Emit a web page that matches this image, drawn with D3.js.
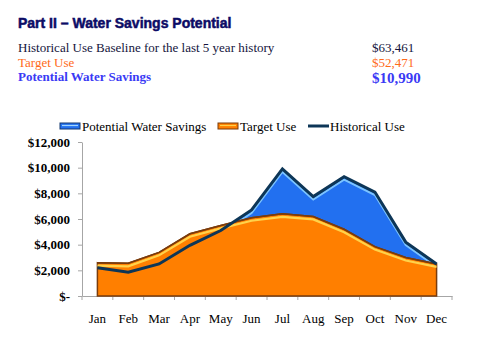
<!DOCTYPE html>
<html>
<meta charset="utf-8">
<script src="https://d3js.org/d3.v7.min.js"></script>
<style>
  body { margin: 0; background: #fff; }
  text { font-family: "Liberation Serif", "DejaVu Serif", serif; }
</style>
<div id="chart_div"></div>
<script>

var months = ["Jan", "Feb", "Mar", "Apr", "May", "Jun", "Jul", "Aug", "Sep", "Oct", "Nov", "Dec"];
var historical = [2200, 1850, 2500, 3950, 5100, 6700, 9900, 7750, 9300, 8100, 4200, 2500];
var target = [2600, 2550, 3400, 4850, 5500, 6100, 6400, 6200, 5200, 3850, 3000, 2500];
var yTicks = [0, 2000, 4000, 6000, 8000, 10000, 12000];

var summaryLabels = ["Historical Use Baseline for the last 5 year history", "Target Use", "Potential Water Savings"];
var summaryValues = ["$63,461", "$52,471", "$10,990"];
var legendLabels = ["Potential Water Savings", "Target Use", "Historical Use"];

var W = 501, H = 341;
var svg = d3.select("#chart_div").append("svg")
  .attr("width", W).attr("height", H);

// heading and totals
svg.append("text")
  .attr("x", 18).attr("y", 28)
  .style("font-family", "'Liberation Sans', Arial, sans-serif")
  .style("font-weight", "bold")
  .style("font-size", "14px")
  .style("fill", "#0c0c66")
  .style("stroke", "#0c0c66")
  .style("stroke-width", 0.5)
  .text("Part II \u2013 Water Savings Potential");

var rowY = [52, 67, 81];
var rowColor = ["#14143c", "#ff6a1a", "#3a3af5"];
summaryLabels.forEach(function(t, i) {
  svg.append("text").attr("x", 18).attr("y", rowY[i])
    .style("font-size", "13px")
    .style("font-weight", i == 2 ? "bold" : "normal")
    .style("fill", rowColor[i]).text(t);
  svg.append("text").attr("x", 372).attr("y", rowY[i] + (i == 2 ? 1.5 : 0))
    .style("font-size", i == 2 ? "15px" : "13px")
    .style("font-weight", i == 2 ? "bold" : "normal")
    .style("fill", rowColor[i]).text(summaryValues[i]);
});

// plot box
var plotLeft = 82, plotRight = 452, plotTop = 142, plotBottom = 296;

var x = d3.scaleBand().domain(months).range([plotLeft, plotRight]);
var y = d3.scaleLinear().domain([0, 12000]).range([plotBottom, plotTop]);
var cx = function(m) { return x(m) + x.bandwidth() / 2; };

var xAxis = svg.append("g")
  .attr("transform", "translate(0," + plotBottom + ")")
  .call(d3.axisBottom(x).tickSize(4).tickSizeOuter(0));
xAxis.selectAll(".tick line").attr("transform", "translate(" + (-x.bandwidth() / 2) + ",0)");
xAxis.append("line").attr("x1", plotRight).attr("x2", plotRight).attr("y2", 4);

var yAxis = svg.append("g")
  .attr("transform", "translate(" + plotLeft + ",0)")
  .call(d3.axisLeft(y).tickValues(yTicks).tickSize(4).tickSizeOuter(0)
    .tickFormat(function(d) { return d == 0 ? "$-" : d3.format("$,")(d); }));

[xAxis, yAxis].forEach(function(g) {
  g.selectAll("path, line").attr("stroke", "#a6a6a6");
  g.selectAll("text")
    .style("font-family", "'Liberation Serif', serif")
    .style("font-size", "13px")
    .style("fill", "#000");
});
xAxis.selectAll(".tick text").attr("dy", "1.55em");
yAxis.selectAll(".tick text").attr("x", -12).style("font-weight", "bold");

var histData = months.map(function(m, i) { return { m: m, v: historical[i] }; });
var targData = months.map(function(m, i) { return { m: m, v: target[i] }; });

var area = d3.area()
  .x(function(d) { return cx(d.m); })
  .y0(y(0))
  .y1(function(d) { return y(d.v); });
var line = d3.line()
  .x(function(d) { return cx(d.m); })
  .y(function(d) { return y(d.v); });
var shifted = d3.line()
  .x(function(d) { return cx(d.m); })
  .y(function(d) { return y(d.v) + 3; });

// savings area: filled up to historical use
svg.append("path").datum(histData)
  .attr("d", area)
  .attr("fill", "#2270f0");
svg.append("path").datum(histData)
  .attr("d", shifted)
  .attr("fill", "none")
  .attr("stroke", "#7cc4ff")
  .attr("stroke-width", 2);

// target use area with bevel highlight
svg.append("path").datum(targData)
  .attr("d", area)
  .attr("fill", "#ff7f00")
  .attr("stroke", "#7a3c0c")
  .attr("stroke-width", 1.5);
svg.append("path").datum(targData)
  .attr("d", shifted)
  .attr("fill", "none")
  .attr("stroke", "#ffd24a")
  .attr("stroke-width", 2.2);
svg.append("path").datum(targData)
  .attr("d", line)
  .attr("fill", "none")
  .attr("stroke", "#7a3c0c")
  .attr("stroke-width", 1.5);

// historical use line
svg.append("path").datum(histData)
  .attr("d", line)
  .attr("fill", "none")
  .attr("stroke", "#0d3657")
  .attr("stroke-width", 3)
  .attr("stroke-linejoin", "miter");

// legend
var legendX = [60, 218, 308];
var legend = svg.append("g");
legendLabels.forEach(function(t, i) {
  var g = legend.append("g").attr("transform", "translate(" + legendX[i] + ",126)");
  if (i == 0) {
    g.append("rect").attr("x", 0).attr("y", -3).attr("width", 20).attr("height", 6)
      .attr("fill", "#2270f0").attr("stroke", "#143a70").attr("stroke-width", 1);
    g.append("line").attr("x1", 2).attr("x2", 18).attr("y1", -0.5).attr("y2", -0.5)
      .attr("stroke", "#9fd6ff").attr("stroke-width", 1.2);
  } else if (i == 1) {
    g.append("rect").attr("x", 0).attr("y", -3).attr("width", 20).attr("height", 6)
      .attr("fill", "#ff7f00").attr("stroke", "#7a3c0c").attr("stroke-width", 1);
    g.append("line").attr("x1", 2).attr("x2", 18).attr("y1", -0.5).attr("y2", -0.5)
      .attr("stroke", "#ffd24a").attr("stroke-width", 1.2);
  } else {
    g.append("line").attr("x1", 0).attr("x2", 21).attr("y1", 0).attr("y2", 0)
      .attr("stroke", "#0d3657").attr("stroke-width", 3);
  }
  g.append("text").attr("x", 22).attr("y", 5)
    .style("font-size", "13px").style("fill", "#000").text(t);
});

</script>
</html>
